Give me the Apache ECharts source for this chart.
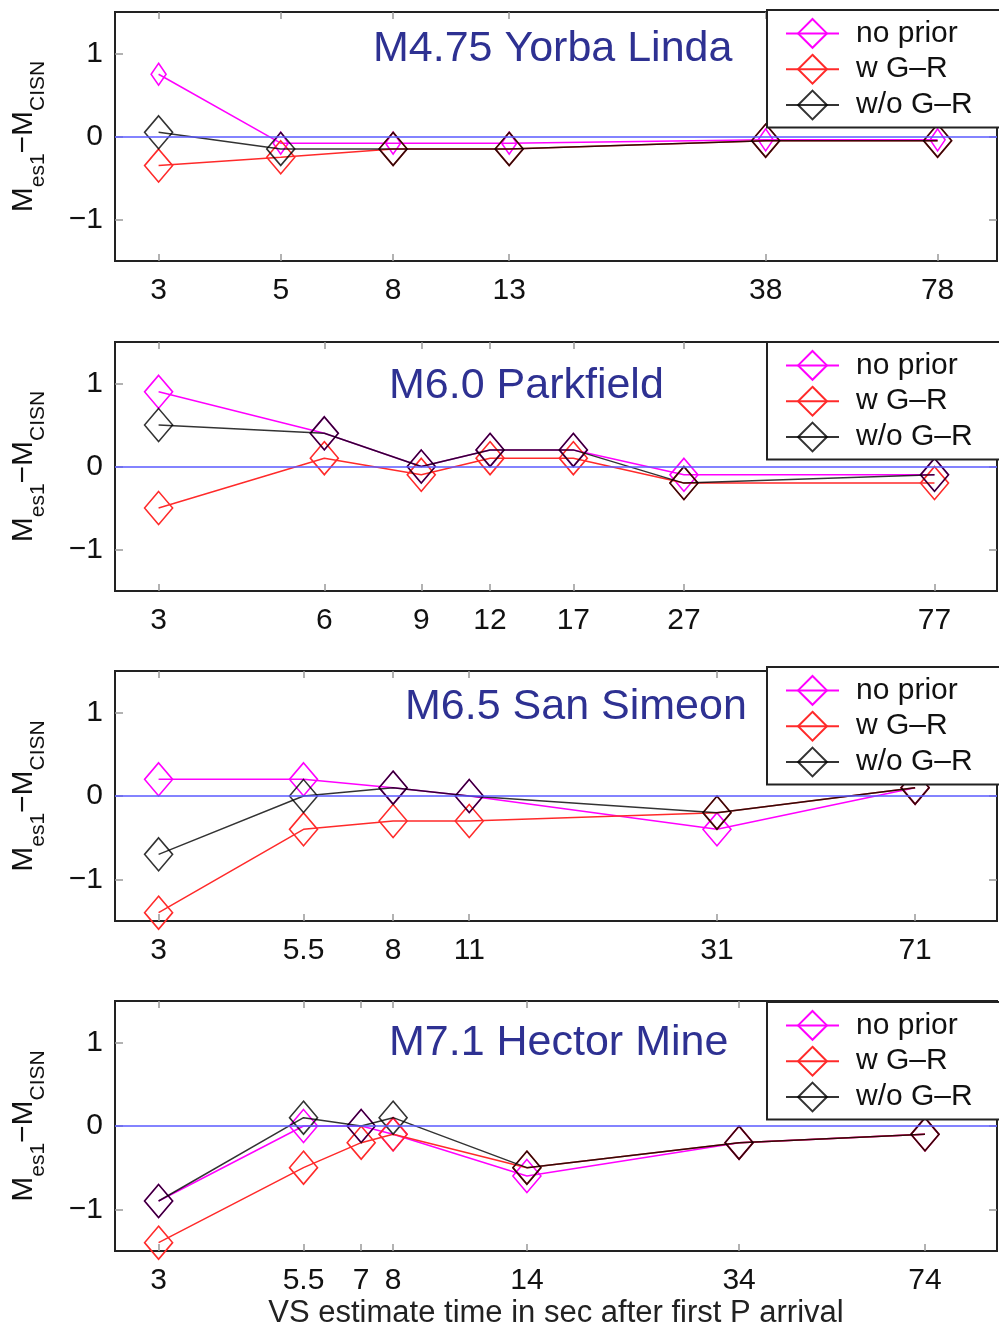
<!DOCTYPE html>
<html><head><meta charset="utf-8">
<script src="https://cdn.jsdelivr.net/npm/echarts@6/dist/echarts.min.js"></script>
<style>html,body{margin:0;padding:0;background:#fff}#c{width:999px;height:1332px}</style>
</head><body><div id="c"></div>
<script>
// ---- data ----
const seriesNames = ['no prior', 'w G–R', 'w/o G–R'];
const panelTitles = ['M4.75 Yorba Linda', 'M6.0 Parkfield', 'M6.5 San Simeon', 'M7.1 Hector Mine'];
const xAxisTitle = 'VS estimate time in sec after first P arrival';
const yTicks = [-1, 0, 1];

const times1 = [3, 5, 8, 13, 38, 78];
const noPrior1 = [0.75, -0.08, -0.08, -0.08, -0.04, -0.04];
const wGR1 = [-0.35, -0.25, -0.15, -0.15, -0.05, -0.05];
const woGR1 = [0.05, -0.15, -0.15, -0.15, -0.05, -0.05];

const times2 = [3, 6, 9, 12, 17, 27, 77];
const noPrior2 = [0.9, 0.4, 0.0, 0.2, 0.2, -0.1, -0.1];
const wGR2 = [-0.5, 0.1, -0.1, 0.1, 0.1, -0.2, -0.2];
const woGR2 = [0.5, 0.4, 0.0, 0.2, 0.2, -0.2, -0.1];

const times3 = [3, 5.5, 8, 11, 31, 71];
const noPrior3 = [0.2, 0.2, 0.1, 0.0, -0.4, 0.1];
const wGR3 = [-1.4, -0.4, -0.3, -0.3, -0.2, 0.1];
const woGR3 = [-0.7, 0.0, 0.1, 0.0, -0.2, 0.1];

const times4 = [3, 5.5, 7, 8, 14, 34, 74];
const noPrior4 = [-0.9, 0.0, 0.0, -0.1, -0.6, -0.2, -0.1];
const wGR4 = [-1.4, -0.5, -0.2, -0.1, -0.5, -0.2, -0.1];
const woGR4 = [-0.9, 0.1, 0.0, 0.1, -0.5, -0.2, -0.1];

const panels = [
  {times: times1, vals: [noPrior1, wGR1, woGR1]},
  {times: times2, vals: [noPrior2, wGR2, woGR2]},
  {times: times3, vals: [noPrior3, wGR3, woGR3]},
  {times: times4, vals: [noPrior4, wGR4, woGR4]}
];

// ---- layout / style ----
const FF = '"Liberation Sans", Arial, Helvetica, sans-serif';
const gridTops = [12, 342, 671, 1001];
const gridHeights = [249, 249, 250, 250];
const legendTops = [10, 342, 667, 1002];
const titlePos = [[373, 28], [389, 365], [405, 686], [389, 1022]];
const colors = ['#ff00ff', '#ff2a2a', 'rgba(0,0,0,0.8)'];
const symSizes = [[28, 33], [28, 33], [28, 33]];

const chart = echarts.init(document.getElementById('c'), null, {renderer: 'canvas'});

const grid = [], xAxis = [], yAxis = [], series = [], legend = [], title = [];

panels.forEach((p, i) => {
  grid.push({left: 115, right: 2, top: gridTops[i], height: gridHeights[i],
    show: true, borderColor: '#222', borderWidth: 2, backgroundColor: 'transparent'});
  const xBase = {
    type: 'log', logBase: 10, min: 2.5, max: 100, gridIndex: i,
    axisLine: {show: false, onZero: false}, splitLine: {show: false}, minorTick: {show: false}
  };
  xAxis.push(Object.assign({}, xBase, {
    position: 'bottom',
    axisTick: {show: true, inside: true, length: 7, lineStyle: {color: '#999', width: 1.5}, customValues: p.times},
    axisLabel: {show: true, customValues: p.times, fontSize: 30, fontFamily: FF, color: '#111', margin: 15,
      formatter: v => String(+v.toFixed(2))},
    name: i === 3 ? xAxisTitle : '', nameLocation: 'middle', nameGap: 47,
    nameTextStyle: {fontSize: 31, fontFamily: FF, color: '#222'}
  }));
  xAxis.push(Object.assign({}, xBase, {
    position: 'top',
    axisTick: {show: true, inside: true, length: 7, lineStyle: {color: '#999', width: 1.5}, customValues: p.times},
    axisLabel: {show: false}
  }));
  const yBase = {type: 'value', min: -1.5, max: 1.5, gridIndex: i,
    axisLine: {show: false, onZero: false}, splitLine: {show: false}};
  yAxis.push(Object.assign({}, yBase, {
    position: 'left',
    axisTick: {show: true, inside: true, length: 8, lineStyle: {color: '#999', width: 1.5}, customValues: yTicks},
    axisLabel: {show: true, customValues: yTicks, fontSize: 30, fontFamily: FF, color: '#111', margin: 12,
      formatter: v => String(v).replace('-', '−')},
    name: '{m|M}{s|es1}{m|−M}{s|CISN}', nameLocation: 'middle', nameRotate: 90, nameGap: 66,
    nameTextStyle: {rich: {
      m: {fontSize: 30, fontFamily: FF, color: '#111'},
      s: {fontSize: 21, fontFamily: FF, color: '#111', padding: [30, 0, 0, 0]}
    }}
  }));
  yAxis.push(Object.assign({}, yBase, {
    position: 'right',
    axisTick: {show: true, inside: true, length: 8, lineStyle: {color: '#999', width: 1.5}, customValues: yTicks},
    axisLabel: {show: false}
  }));

  // zero reference line
  series.push({
    type: 'line', name: 'zero', xAxisIndex: 2 * i, yAxisIndex: 2 * i, data: [], z: 1,
    markLine: {silent: true, symbol: 'none', label: {show: false},
      lineStyle: {color: '#5a5aff', width: 1.6, type: 'solid'}, data: [{yAxis: 0}]}
  });
  p.vals.forEach((vals, k) => {
    let ss = symSizes[k];
    if (i === 0 && k === 0) ss = [15, 22];
    series.push({
      type: 'line', name: seriesNames[k], xAxisIndex: 2 * i, yAxisIndex: 2 * i,
      data: p.times.map((t, j) => [t, vals[j]]),
      symbol: 'diamond', symbolSize: ss, showAllSymbol: true, z: 2 + k,
      lineStyle: {color: colors[k], width: 1.5},
      itemStyle: {color: 'rgba(0,0,0,0)', borderColor: colors[k], borderWidth: 1.6},
      emphasis: {disabled: true}, animation: false
    });
  });

  legend.push({
    data: seriesNames, orient: 'vertical', left: 767, top: legendTops[i],
    itemWidth: 53, itemHeight: 36, itemGap: 5, padding: [8, 30, 7, 18],
    backgroundColor: '#fff', borderColor: '#222', borderWidth: 2, borderRadius: 0,
    selectedMode: false, z: 10,
    textStyle: {fontSize: 30, fontFamily: FF, color: '#111', padding: [0, 0, 0, 12]}
  });
  title.push({
    text: panelTitles[i], left: titlePos[i][0], top: titlePos[i][1], padding: 0,
    textStyle: {fontSize: 43, fontWeight: 'normal', fontFamily: FF, color: '#2e3192'}
  });
});

chart.setOption({
  animation: false, backgroundColor: '#fff',
  grid, xAxis, yAxis, series, legend, title
});
</script>
</body></html>
